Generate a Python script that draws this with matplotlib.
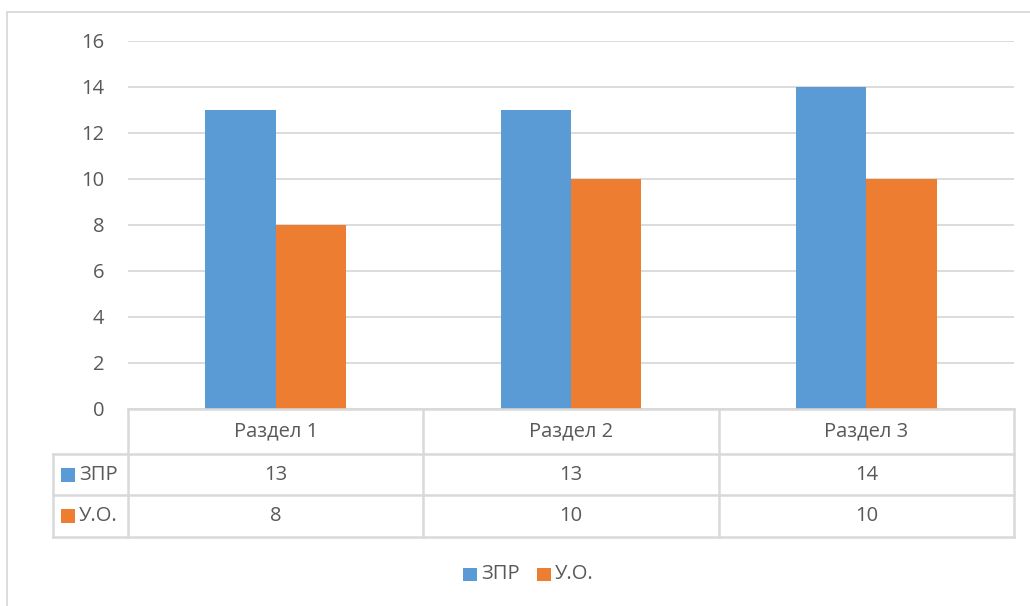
import matplotlib
matplotlib.use("Agg")
import matplotlib.pyplot as plt
from matplotlib.lines import Line2D
from matplotlib.patches import Rectangle
from matplotlib.transforms import blended_transform_factory

categories = ["Раздел 1", "Раздел 2", "Раздел 3"]
series_names = ["ЗПР", "У.О."]
zpr = [13, 13, 14]
uo = [8, 10, 10]
yticks = [0, 2, 4, 6, 8, 10, 12, 14, 16]

colors = ["#5B9BD5", "#ED7D31"]
text_color = "#595959"
line_color = "#D9D9D9"
font = ["Open Sans", "DejaVu Sans"]
fs = 14.5

W, H = 1030, 606
fig = plt.figure(figsize=(W / 100, H / 100), dpi=100)


def fx(px):
    return px / W


def fy(py):
    return 1 - py / H


ax = fig.add_axes([fx(128), fy(409), fx(1014) - fx(128), fy(41) - fy(409)])

bar_w = 0.2386
xs = list(range(len(categories)))
for k, vals in enumerate([zpr, uo]):
    offs = (k - 0.5) * bar_w
    ax.bar([x + offs for x in xs], vals, width=bar_w, color=colors[k], zorder=3)

ax.set_xlim(-0.5, len(categories) - 0.5)
ax.set_ylim(0, 16)
ax.set_yticks(yticks)
ax.set_yticklabels([str(t) for t in yticks], fontsize=fs, color=text_color, family=font)
ax.tick_params(axis="y", length=0, pad=17)
ax.set_xticks([])
ax.grid(axis="y", color=line_color, lw=1.3, zorder=0)
for s in ax.spines.values():
    s.set_visible(False)

# data table under the axes
tr = blended_transform_factory(ax.transData, fig.transFigure)
row_y = [409, 454, 495, 537]
x_left = -0.5 - (128 - 53) / ((1014 - 128) / 3)
x_right = len(categories) - 0.5

def hline(py, x0, x1):
    fig.add_artist(Line2D([x0, x1], [fy(py), fy(py)], transform=tr, color=line_color, lw=1.8, clip_on=False))

def vline(x, py0, py1):
    fig.add_artist(Line2D([x, x], [fy(py0), fy(py1)], transform=tr, color=line_color, lw=1.8, clip_on=False))

hline(row_y[0], -0.5, x_right)
for py in row_y[1:]:
    hline(py, x_left, x_right)
vline(x_left, row_y[1], row_y[3])
for i in range(len(categories) + 1):
    vline(i - 0.5, row_y[0], row_y[3])

for i, c in enumerate(categories):
    fig.text(i, fy((row_y[0] + row_y[1]) / 2), c, transform=tr, ha="center", va="center",
             fontsize=fs, color=text_color, family=font)
for r, vals in enumerate([zpr, uo]):
    yc = fy((row_y[r + 1] + row_y[r + 2]) / 2)
    for i, v in enumerate(vals):
        fig.text(i, yc, str(v), transform=tr, ha="center", va="center",
                 fontsize=fs, color=text_color, family=font)
    fig.add_artist(Rectangle((fx(61), yc - 7 / H), 14 / W, 14 / H, transform=fig.transFigure,
                             color=colors[r], lw=0))
    fig.text(fx(79), yc, series_names[r], ha="left", va="center",
             fontsize=fs, color=text_color, family=font)

# legend
leg_y = fy(574)
for k, (px_sq, px_tx) in enumerate([(463, 481), (537, 555)]):
    fig.add_artist(Rectangle((fx(px_sq), leg_y - 6.5 / H), 14 / W, 13 / H, transform=fig.transFigure,
                             color=colors[k], lw=0))
    fig.text(fx(px_tx), leg_y, series_names[k], ha="left", va="center",
             fontsize=fs, color=text_color, family=font)

# chart area border
fig.add_artist(Line2D([fx(7), fx(7)], [fy(12), 0], color=line_color, lw=1.3))
fig.add_artist(Line2D([fx(7), 1], [fy(12), fy(12)], color=line_color, lw=1.3))

fig.savefig("out.png", dpi=100)
